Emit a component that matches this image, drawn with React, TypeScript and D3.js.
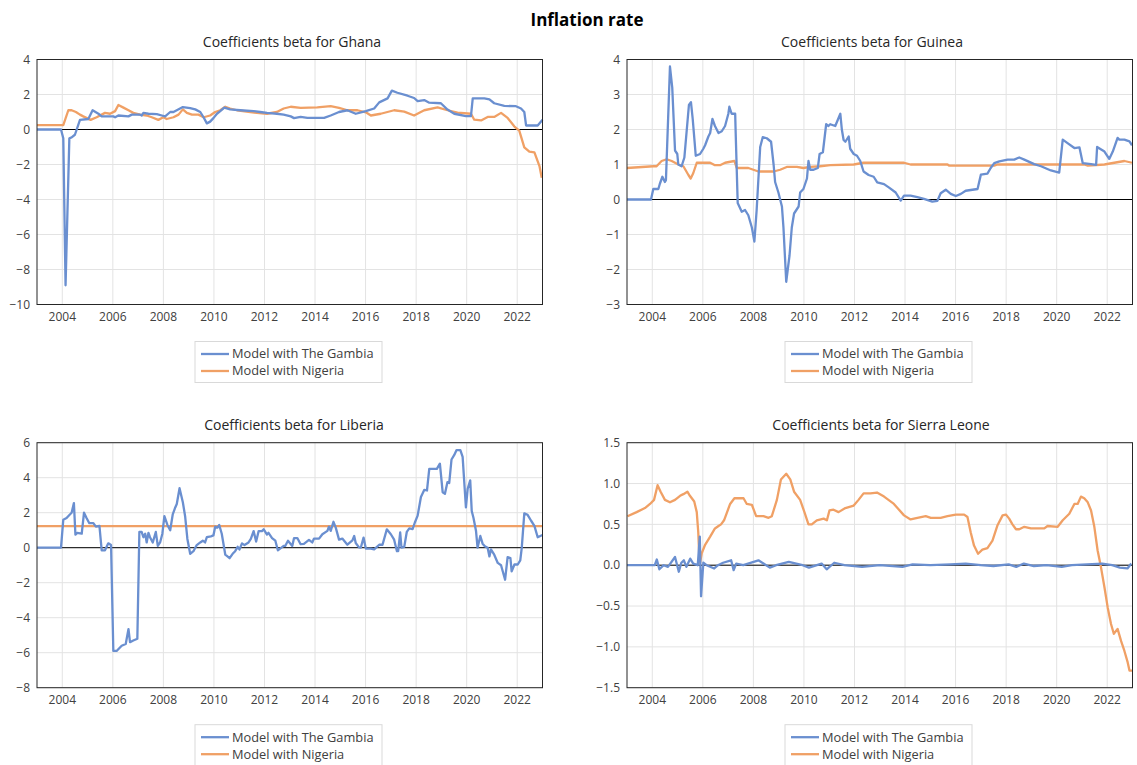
import React, { useEffect, useRef } from "react";
import * as d3 from "d3";

// values (year, beta)
const yearTicks = [2004, 2006, 2008, 2010, 2012, 2014, 2016, 2018, 2020, 2022];
const seriesNames = ["Model with The Gambia", "Model with Nigeria"];

const ghanaGambia: [number, number][] = [
  [2003.0, 0], [2003.95, 0], [2004.04, -0.5], [2004.13, -8.9], [2004.28, -0.5], [2004.37, -0.45],
  [2004.5, -0.3], [2004.7, 0.55], [2005.03, 0.6], [2005.2, 1.1], [2005.43, 0.9], [2005.56, 0.75],
  [2006.02, 0.75], [2006.09, 0.7], [2006.22, 0.8], [2006.62, 0.75], [2006.75, 0.85], [2007.08, 0.85],
  [2007.14, 0.8], [2007.21, 0.95], [2007.41, 0.9], [2007.74, 0.88], [2007.94, 0.8], [2008.07, 0.75],
  [2008.27, 1.0], [2008.4, 1.0], [2008.53, 1.1], [2008.77, 1.28], [2009.06, 1.22], [2009.26, 1.15],
  [2009.46, 1.0], [2009.59, 0.7], [2009.72, 0.35], [2009.85, 0.45], [2009.98, 0.65], [2010.12, 0.9],
  [2010.25, 1.05], [2010.41, 1.25], [2010.64, 1.15], [2011.04, 1.1], [2011.57, 1.05], [2011.83, 1.0],
  [2012.1, 0.95], [2012.49, 0.9], [2012.76, 0.85], [2013.04, 0.75], [2013.17, 0.65], [2013.43, 0.72],
  [2013.7, 0.66], [2014.36, 0.66], [2014.62, 0.8], [2014.95, 1.0], [2015.28, 1.1], [2015.61, 0.9],
  [2016.01, 1.05], [2016.34, 1.2], [2016.54, 1.55], [2016.87, 1.78], [2017.04, 2.22], [2017.26, 2.1],
  [2017.66, 1.93], [2017.92, 1.8], [2018.06, 1.62], [2018.32, 1.68], [2018.52, 1.53], [2018.98, 1.5],
  [2019.24, 1.14], [2019.51, 0.9], [2019.97, 0.77], [2020.17, 0.77], [2020.24, 1.78], [2020.7, 1.78],
  [2020.9, 1.72], [2021.09, 1.5], [2021.49, 1.35], [2021.95, 1.33], [2022.15, 1.2], [2022.28, 1.0],
  [2022.35, 0.23], [2022.81, 0.23], [2023.0, 0.56],
];
const ghanaNigeria: [number, number][] = [
  [2003.0, 0.25], [2004.04, 0.25], [2004.24, 1.1], [2004.37, 1.1], [2004.54, 1.0], [2004.7, 0.85],
  [2004.83, 0.75], [2005.12, 0.55], [2005.36, 0.7], [2005.56, 0.85], [2005.69, 0.95], [2005.89, 0.9],
  [2006.09, 1.05], [2006.22, 1.4], [2006.42, 1.25], [2006.62, 1.1], [2006.81, 0.95], [2007.08, 0.85],
  [2007.34, 0.8], [2007.54, 0.7], [2007.8, 0.55], [2008.0, 0.7], [2008.13, 0.6], [2008.4, 0.7],
  [2008.6, 0.85], [2008.77, 1.15], [2008.93, 0.95], [2009.13, 0.85], [2009.39, 0.85], [2009.59, 0.7],
  [2009.85, 0.8], [2010.05, 1.0], [2010.25, 1.1], [2010.45, 1.3], [2010.64, 1.2], [2010.91, 1.1],
  [2011.44, 1.0], [2011.7, 0.95], [2012.1, 0.9], [2012.49, 1.0], [2012.76, 1.2], [2013.04, 1.3],
  [2013.43, 1.24], [2014.09, 1.26], [2014.62, 1.33], [2014.95, 1.24], [2015.28, 1.1], [2015.68, 1.1],
  [2016.01, 0.98], [2016.21, 0.8], [2016.6, 0.9], [2017.13, 1.1], [2017.53, 1.02], [2017.92, 0.8],
  [2018.32, 1.1], [2018.85, 1.26], [2019.24, 1.1], [2019.64, 0.96], [2020.17, 0.9], [2020.3, 0.56],
  [2020.57, 0.52], [2020.83, 0.72], [2021.09, 0.72], [2021.36, 0.95], [2021.62, 0.66], [2021.89, 0.17],
  [2022.08, -0.06], [2022.28, -1.02], [2022.48, -1.27], [2022.68, -1.31], [2022.88, -2.09], [2022.97, -2.76],
];

const guineaGambia: [number, number][] = [
  [2003.0, 0], [2003.95, 0], [2004.04, 0.3], [2004.24, 0.3], [2004.3, 0.45], [2004.4, 0.65],
  [2004.5, 0.5], [2004.54, 0.55], [2004.7, 3.8], [2004.79, 3.2], [2004.9, 1.4], [2004.99, 1.3],
  [2005.03, 1.0], [2005.16, 0.95], [2005.27, 1.2], [2005.45, 2.7], [2005.53, 2.78], [2005.6, 2.3],
  [2005.72, 1.25], [2005.89, 1.3], [2006.02, 1.45], [2006.09, 1.55], [2006.22, 1.8], [2006.29, 1.9],
  [2006.38, 2.3], [2006.48, 2.1], [2006.62, 1.9], [2006.75, 1.95], [2006.88, 2.1], [2007.01, 2.45],
  [2007.05, 2.65], [2007.14, 2.45], [2007.28, 2.45], [2007.3, 1.9], [2007.38, -0.1], [2007.54, -0.35],
  [2007.67, -0.3], [2007.8, -0.45], [2007.94, -0.8], [2008.04, -1.2], [2008.13, -0.3], [2008.27, 1.5],
  [2008.37, 1.78], [2008.53, 1.75], [2008.7, 1.65], [2008.8, 1.0], [2008.86, 0.5], [2008.99, 0.2],
  [2009.13, -0.2], [2009.19, -0.8], [2009.3, -2.35], [2009.43, -1.6], [2009.52, -0.8], [2009.61, -0.4],
  [2009.79, -0.2], [2009.85, 0.2], [2009.98, 0.3], [2010.12, 0.6], [2010.18, 1.1], [2010.25, 0.85],
  [2010.38, 0.85], [2010.55, 0.9], [2010.62, 1.3], [2010.75, 1.35], [2010.88, 2.15], [2010.97, 2.1],
  [2011.04, 2.15], [2011.24, 2.1], [2011.44, 2.45], [2011.5, 2.0], [2011.57, 1.7], [2011.64, 1.65],
  [2011.77, 1.8], [2011.83, 1.45], [2011.97, 1.3], [2012.1, 1.25], [2012.23, 1.1], [2012.36, 0.8],
  [2012.56, 0.7], [2012.76, 0.65], [2012.9, 0.49], [2013.17, 0.44], [2013.37, 0.34], [2013.63, 0.2],
  [2013.83, -0.03], [2013.96, 0.11], [2014.22, 0.11], [2014.49, 0.07], [2014.75, 0.02], [2015.08, -0.06],
  [2015.28, -0.04], [2015.41, 0.18], [2015.61, 0.28], [2015.81, 0.16], [2016.01, 0.1], [2016.21, 0.16],
  [2016.4, 0.25], [2016.87, 0.3], [2017.0, 0.71], [2017.26, 0.74], [2017.39, 0.9], [2017.53, 1.04],
  [2017.73, 1.09], [2018.06, 1.14], [2018.32, 1.14], [2018.52, 1.2], [2018.72, 1.14], [2019.11, 1.01],
  [2019.38, 0.95], [2019.77, 0.83], [2020.1, 0.77], [2020.24, 1.71], [2020.43, 1.61], [2020.7, 1.47],
  [2020.9, 1.49], [2021.03, 1.04], [2021.36, 1.01], [2021.56, 0.99], [2021.6, 1.5], [2021.89, 1.37],
  [2022.08, 1.16], [2022.22, 1.37], [2022.41, 1.76], [2022.48, 1.71], [2022.68, 1.71], [2022.88, 1.66],
  [2022.98, 1.55],
];
const guineaNigeria: [number, number][] = [
  [2003.0, 0.9], [2004.04, 0.95], [2004.17, 0.95], [2004.37, 1.1], [2004.57, 1.15], [2004.77, 1.1],
  [2005.03, 1.0], [2005.23, 0.95], [2005.43, 0.7], [2005.52, 0.6], [2005.62, 0.75], [2005.76, 1.05],
  [2006.29, 1.05], [2006.48, 0.98], [2006.68, 0.98], [2006.88, 1.05], [2007.25, 1.1], [2007.34, 0.9],
  [2007.8, 0.9], [2008.0, 0.85], [2008.2, 0.8], [2008.8, 0.8], [2009.06, 0.85], [2009.32, 0.93],
  [2009.72, 0.93], [2009.98, 0.9], [2010.25, 0.93], [2010.64, 0.95], [2011.04, 0.98], [2011.97, 1.0],
  [2012.36, 1.05], [2013.96, 1.05], [2014.22, 1.0], [2015.68, 1.0], [2015.74, 0.97], [2017.53, 0.97],
  [2017.66, 1.0], [2021.09, 1.0], [2021.23, 0.97], [2021.89, 1.0], [2022.28, 1.05], [2022.68, 1.1],
  [2022.98, 1.05],
];

const liberiaGambia: [number, number][] = [
  [2003.0, 0], [2003.95, 0], [2004.04, 1.6], [2004.17, 1.7], [2004.3, 1.9], [2004.37, 2.0],
  [2004.46, 2.55], [2004.52, 0.75], [2004.59, 0.85], [2004.77, 0.8], [2004.86, 2.0], [2004.96, 1.7],
  [2005.07, 1.4], [2005.23, 1.4], [2005.33, 1.2], [2005.47, 1.25], [2005.56, -0.15], [2005.69, -0.15],
  [2005.82, 0.25], [2005.93, 0.15], [2006.02, -5.9], [2006.15, -5.9], [2006.35, -5.6], [2006.51, -5.5],
  [2006.62, -4.65], [2006.68, -5.4], [2006.81, -5.3], [2006.97, -5.2], [2007.05, 0.9], [2007.14, 0.9],
  [2007.21, 0.6], [2007.28, 0.8], [2007.34, 0.3], [2007.41, 0.85], [2007.47, 0.6], [2007.58, 0.3],
  [2007.7, 0.9], [2007.78, 0.1], [2007.87, 0.3], [2007.96, 0.8], [2008.04, 1.8], [2008.16, 1.3],
  [2008.27, 1.0], [2008.37, 1.9], [2008.47, 2.3], [2008.53, 2.5], [2008.64, 3.4], [2008.77, 2.6],
  [2008.86, 1.8], [2008.95, 0.5], [2009.06, -0.35], [2009.19, -0.2], [2009.32, 0.15], [2009.46, 0.3],
  [2009.56, 0.4], [2009.65, 0.3], [2009.72, 0.6], [2009.88, 0.65], [2009.98, 0.7], [2010.05, 1.2],
  [2010.14, 1.15], [2010.21, 1.3], [2010.31, 0.8], [2010.45, -0.4], [2010.62, -0.6], [2010.74, -0.35],
  [2010.84, -0.2], [2010.94, 0.05], [2011.01, -0.1], [2011.11, 0.25], [2011.21, 0.15], [2011.37, 0.3],
  [2011.46, 0.5], [2011.57, 0.95], [2011.67, 0.35], [2011.77, 0.95], [2011.9, 0.95], [2011.97, 1.05],
  [2012.1, 0.75], [2012.16, 0.85], [2012.3, 0.55], [2012.43, 0.4], [2012.53, -0.15], [2012.67, 0.0],
  [2012.76, 0.1], [2012.82, 0.1], [2012.93, 0.4], [2013.1, 0.1], [2013.17, 0.55], [2013.3, 0.55],
  [2013.43, 0.2], [2013.56, 0.22], [2013.76, 0.45], [2013.89, 0.3], [2013.96, 0.52], [2014.16, 0.52],
  [2014.29, 0.77], [2014.49, 0.96], [2014.55, 1.2], [2014.62, 0.96], [2014.73, 1.48], [2014.82, 1.15],
  [2014.95, 0.46], [2015.08, 0.52], [2015.28, 0.17], [2015.48, 0.42], [2015.55, 0.67], [2015.61, 0.27],
  [2015.74, 0.02], [2015.81, 0.0], [2015.92, 0.58], [2016.01, -0.05], [2016.21, -0.05], [2016.34, -0.1],
  [2016.54, 0.17], [2016.67, 0.17], [2016.84, 1.05], [2017.0, 0.77], [2017.13, 0.46], [2017.24, -0.2],
  [2017.29, -0.2], [2017.37, 0.87], [2017.42, 0.0], [2017.53, 0.05], [2017.63, 0.9], [2017.73, 1.1],
  [2017.86, 1.06], [2017.95, 1.44], [2018.06, 1.83], [2018.19, 2.9], [2018.32, 3.3], [2018.43, 3.27],
  [2018.52, 4.5], [2018.72, 4.5], [2018.82, 4.5], [2018.94, 4.8], [2019.05, 3.17], [2019.14, 3.08],
  [2019.24, 3.75], [2019.31, 3.7], [2019.4, 5.04], [2019.51, 5.3], [2019.6, 5.58], [2019.75, 5.58],
  [2019.84, 5.19], [2019.9, 3.85], [2019.97, 2.3], [2020.04, 3.37], [2020.14, 3.85], [2020.2, 2.1],
  [2020.27, 1.7], [2020.37, 0.95], [2020.43, 0.0], [2020.54, 0.67], [2020.63, 0.23], [2020.72, 0.08],
  [2020.83, 0.0], [2020.9, -0.5], [2020.96, -0.1], [2021.09, -0.4], [2021.23, -0.87], [2021.36, -1.0],
  [2021.52, -1.83], [2021.62, -0.54], [2021.73, -0.6], [2021.78, -1.35], [2021.89, -0.96], [2022.02, -0.96],
  [2022.12, -0.73], [2022.18, 0.0], [2022.28, 1.96], [2022.41, 1.88], [2022.55, 1.54], [2022.68, 1.25],
  [2022.81, 0.6], [2023.0, 0.73],
];
const liberiaNigeria: [number, number][] = [
  [2003.0, 1.23], [2008.0, 1.23], [2013.0, 1.23], [2018.0, 1.23], [2023.0, 1.23],
];

const sierraGambia: [number, number][] = [
  [2003.0, 0], [2004.1, 0], [2004.18, 0.07], [2004.28, -0.05], [2004.45, 0.0], [2004.62, -0.02],
  [2004.9, 0.1], [2005.05, -0.08], [2005.15, 0.03], [2005.25, 0.06], [2005.35, -0.02], [2005.5, 0.08],
  [2005.62, 0.02], [2005.8, 0.0], [2005.88, 0.35], [2005.93, -0.38], [2006.02, 0.03], [2006.15, 0.0],
  [2006.45, -0.04], [2006.6, 0.0], [2006.8, 0.03], [2007.12, 0.06], [2007.22, -0.06], [2007.32, 0.02],
  [2007.6, 0.0], [2008.2, 0.06], [2008.4, 0.02], [2008.65, -0.03], [2008.9, 0.0], [2009.4, 0.04],
  [2009.95, 0.0], [2010.2, -0.03], [2010.7, 0.02], [2010.9, -0.05], [2011.2, 0.03], [2011.6, 0.0],
  [2012.3, -0.02], [2013.0, 0.0], [2013.9, -0.02], [2014.3, 0.01], [2015.0, 0.0], [2015.8, 0.01],
  [2016.4, 0.02], [2017.0, 0.0], [2017.5, -0.01], [2018.1, 0.01], [2018.4, -0.02], [2018.7, 0.02],
  [2019.1, -0.01], [2019.6, 0.0], [2020.2, -0.02], [2020.6, 0.0], [2021.2, 0.01], [2021.8, 0.02],
  [2022.2, 0.0], [2022.5, -0.03], [2022.8, -0.04], [2022.95, 0.02],
];
const sierraNigeria: [number, number][] = [
  [2003.02, 0.6], [2003.38, 0.65], [2003.71, 0.7], [2003.91, 0.75], [2004.07, 0.8], [2004.21, 0.98],
  [2004.33, 0.9], [2004.5, 0.8], [2004.7, 0.77], [2004.9, 0.8], [2005.1, 0.85], [2005.23, 0.87],
  [2005.39, 0.9], [2005.49, 0.85], [2005.66, 0.78], [2005.76, 0.65], [2005.82, 0.4], [2005.86, 0.1],
  [2005.89, 0.03], [2005.96, 0.15], [2006.09, 0.25], [2006.29, 0.35], [2006.48, 0.45], [2006.62, 0.48],
  [2006.72, 0.5], [2006.84, 0.55], [2007.08, 0.75], [2007.25, 0.82], [2007.61, 0.82], [2007.74, 0.75],
  [2007.94, 0.74], [2008.11, 0.6], [2008.4, 0.6], [2008.6, 0.58], [2008.73, 0.6], [2008.93, 0.8],
  [2009.09, 1.05], [2009.3, 1.12], [2009.46, 1.05], [2009.61, 0.9], [2009.85, 0.8], [2010.02, 0.65],
  [2010.18, 0.5], [2010.31, 0.5], [2010.51, 0.55], [2010.78, 0.57], [2010.91, 0.55], [2011.01, 0.67],
  [2011.17, 0.68], [2011.37, 0.65], [2011.64, 0.7], [2011.97, 0.73], [2012.16, 0.8], [2012.36, 0.88],
  [2012.63, 0.88], [2012.89, 0.89], [2013.17, 0.84], [2013.56, 0.75], [2013.96, 0.61], [2014.22, 0.56],
  [2014.49, 0.58], [2014.82, 0.6], [2015.02, 0.58], [2015.41, 0.58], [2015.68, 0.6], [2016.01, 0.62],
  [2016.34, 0.62], [2016.47, 0.59], [2016.6, 0.4], [2016.73, 0.24], [2016.89, 0.14], [2017.06, 0.19],
  [2017.26, 0.21], [2017.46, 0.3], [2017.66, 0.49], [2017.86, 0.61], [2017.99, 0.62], [2018.12, 0.57],
  [2018.25, 0.5], [2018.39, 0.44], [2018.52, 0.44], [2018.72, 0.47], [2018.98, 0.45], [2019.51, 0.45],
  [2019.64, 0.48], [2020.04, 0.47], [2020.24, 0.55], [2020.5, 0.63], [2020.7, 0.75], [2020.83, 0.75],
  [2020.96, 0.84], [2021.09, 0.82], [2021.23, 0.77], [2021.36, 0.67], [2021.49, 0.47], [2021.62, 0.18],
  [2021.75, -0.02], [2021.89, -0.27], [2022.02, -0.52], [2022.15, -0.72], [2022.26, -0.84], [2022.41, -0.78],
  [2022.55, -0.93], [2022.68, -1.05], [2022.81, -1.19], [2022.88, -1.29], [2022.98, -1.29],
];

const ghanaTicks = [4, 2, 0, -2, -4, -6, -8, -10];
const guineaTicks = [4, 3, 2, 1, 0, -1, -2, -3];
const liberiaTicks = [6, 4, 2, 0, -2, -4, -6, -8];
const sierraTicks = [1.5, 1.0, 0.5, 0.0, -0.5, -1.0, -1.5];

const BLUE = "#6a8fd0";
const ORANGE = "#f0a065";
const FONT = "'Open Sans', 'DejaVu Sans', sans-serif";

const panels = [
  { title: "Coefficients beta for Ghana", gambia: ghanaGambia, nigeria: ghanaNigeria, ticks: ghanaTicks, fmt: "d", x0: 37, y0: 59.5, titleX: 292 },
  { title: "Coefficients beta for Guinea", gambia: guineaGambia, nigeria: guineaNigeria, ticks: guineaTicks, fmt: "d", x0: 627, y0: 59.5, titleX: 872 },
  { title: "Coefficients beta for Liberia", gambia: liberiaGambia, nigeria: liberiaNigeria, ticks: liberiaTicks, fmt: "d", x0: 37, y0: 442.7, titleX: 294 },
  { title: "Coefficients beta for Sierra Leone", gambia: sierraGambia, nigeria: sierraNigeria, ticks: sierraTicks, fmt: ".1f", x0: 627, y0: 442.7, titleX: 881 },
];

const plotW = 505.5;
const plotH = 245;

const App = () => {
  const ref = useRef<SVGSVGElement>(null);

  useEffect(() => {
    const svg = d3.select(ref.current);
    svg.selectAll("*").remove();

    svg.append("text")
      .attr("x", 587).attr("y", 26)
      .attr("text-anchor", "middle")
      .attr("font-family", FONT).attr("font-weight", "bold").attr("font-size", 17)
      .attr("fill", "#000")
      .text("Inflation rate");

    panels.forEach((p) => {
      const g = svg.append("g").attr("transform", "translate(" + p.x0 + "," + p.y0 + ")");
      const x = d3.scaleLinear().domain([2003, 2023]).range([0, plotW]);
      const y = d3.scaleLinear().domain([d3.min(p.ticks)!, d3.max(p.ticks)!]).range([plotH, 0]);

      // grid
      g.append("g").selectAll("line.h").data(p.ticks).enter().append("line")
        .attr("x1", 0).attr("x2", plotW)
        .attr("y1", (d) => y(d)).attr("y2", (d) => y(d))
        .attr("stroke", "#e3e3e3").attr("stroke-width", 1);
      g.append("g").selectAll("line.v").data(yearTicks).enter().append("line")
        .attr("y1", 0).attr("y2", plotH)
        .attr("x1", (d) => x(d)).attr("x2", (d) => x(d))
        .attr("stroke", "#e3e3e3").attr("stroke-width", 1);

      // zero line
      g.append("line")
        .attr("x1", 0).attr("x2", plotW).attr("y1", y(0)).attr("y2", y(0))
        .attr("stroke", "#000").attr("stroke-width", 1);

      const line = d3.line<[number, number]>()
        .x((d) => x(d[0]))
        .y((d) => y(d[1]));

      g.append("path").datum(p.nigeria)
        .attr("d", line).attr("fill", "none")
        .attr("stroke", ORANGE).attr("stroke-width", 2.3).attr("stroke-linejoin", "round");
      g.append("path").datum(p.gambia)
        .attr("d", line).attr("fill", "none")
        .attr("stroke", BLUE).attr("stroke-width", 2.3).attr("stroke-linejoin", "round");

      // border
      g.append("rect").attr("x", 0).attr("y", 0).attr("width", plotW).attr("height", plotH)
        .attr("fill", "none").attr("stroke", "#262626").attr("stroke-width", 1);

      // y axis labels
      const fmt = d3.format(p.fmt);
      g.append("g").selectAll("text").data(p.ticks).enter().append("text")
        .attr("x", -7).attr("y", (d) => y(d)).attr("dy", "0.35em")
        .attr("text-anchor", "end")
        .attr("font-family", FONT).attr("font-size", 12).attr("fill", "#404040")
        .text((d) => fmt(d));

      // x axis labels
      g.append("g").selectAll("text").data(yearTicks).enter().append("text")
        .attr("x", (d) => x(d)).attr("y", plotH + 16)
        .attr("text-anchor", "middle")
        .attr("font-family", FONT).attr("font-size", 12).attr("fill", "#404040")
        .text((d) => d);

      // title
      svg.append("text")
        .attr("x", p.titleX).attr("y", p.y0 - 12.5)
        .attr("text-anchor", "middle")
        .attr("font-family", FONT).attr("font-size", 14).attr("fill", "#262626")
        .text(p.title);

      // legend
      const lg = svg.append("g").attr("transform", "translate(" + (p.x0 + 158) + "," + (p.y0 + plotH + 37) + ")");
      lg.append("rect").attr("x", 0).attr("y", 0).attr("width", 187).attr("height", 41)
        .attr("fill", "#fff").attr("stroke", "#d9d9d9");
      [BLUE, ORANGE].forEach((c, i) => {
        lg.append("line").attr("x1", 6).attr("x2", 34)
          .attr("y1", 12.5 + i * 17).attr("y2", 12.5 + i * 17)
          .attr("stroke", c).attr("stroke-width", 2.3);
        lg.append("text").attr("x", 37).attr("y", 12.5 + i * 17).attr("dy", "0.35em")
          .attr("font-family", FONT).attr("font-size", 12.8).attr("fill", "#404040")
          .text(seriesNames[i]);
      });
    });
  }, []);

  return (
    <svg ref={ref} width={1137} height={765}
      style={{ position: "absolute", left: 0, top: 0, background: "#fff" }} />
  );
};

export default App;
